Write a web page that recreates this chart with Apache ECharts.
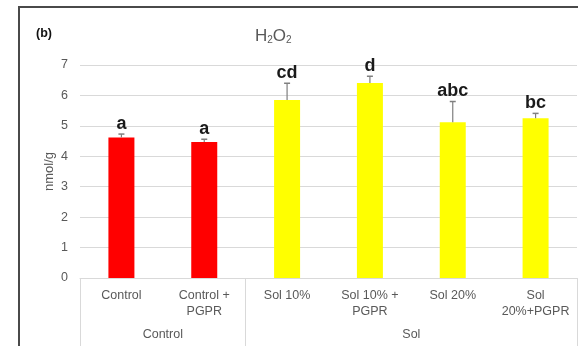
<!DOCTYPE html>
<html>
<head>
<meta charset="utf-8">
<script src="https://cdn.jsdelivr.net/npm/echarts@6/dist/echarts.min.js"></script>
<style>
html,body{margin:0;padding:0;background:#fff;}
#chart{width:578px;height:346px;}
</style>
</head>
<body>
<div id="chart"></div>
<script>
const categories = ['Control', 'Control +\nPGPR', 'Sol 10%', 'Sol 10% +\nPGPR', 'Sol 20%', 'Sol\n20%+PGPR'];
const groups = ['Control', 'Sol'];
const groupOf = [0, 0, 1, 1, 1, 1];
const means = [4.62, 4.47, 5.85, 6.41, 5.12, 5.25];
const errors = [0.11, 0.09, 0.55, 0.22, 0.68, 0.16];
const letters = ['a', 'a', 'cd', 'd', 'abc', 'bc'];
const yMin = 0, yMax = 7, yStep = 1;
const yName = 'nmol/g';
const panelTag = '(b)';

const groupColors = ['#ff0000', '#ffff00'];
const FONT = "'Liberation Sans', Arial, sans-serif";

// group boundaries and centres in category units
const boundaries = [0];
const centres = [];
groups.forEach((g, gi) => {
  const n = groupOf.filter(v => v === gi).length;
  const start = boundaries[boundaries.length - 1];
  centres.push(start + n / 2);
  boundaries.push(start + n);
});

const chart = echarts.init(document.getElementById('chart'));
chart.setOption({
  animation: false,
  backgroundColor: '#fff',
  graphic: [
    { type: 'rect', shape: { x: 19, y: 7, width: 700, height: 500 }, style: { fill: 'none', stroke: '#4a4a4a', lineWidth: 2 } },
    { type: 'text', left: 36, top: 27, style: { text: panelTag, font: 'bold 12.5px ' + FONT, fill: '#111' } },
    { type: 'text', left: 255, top: 28, style: {
        text: '{m|H}{s|2}{m|O}{s|2}',
        rich: {
          m: { fontFamily: FONT, fontSize: 17, fill: '#595959', color: '#595959' },
          s: { fontFamily: FONT, fontSize: 10, fill: '#595959', color: '#595959', padding: [8, 0, 0, 0] }
        }
      } }
  ],
  grid: { left: 80, right: 1, top: 65, bottom: 68, containLabel: false },
  xAxis: [
    {
      type: 'category',
      data: categories,
      axisLine: { lineStyle: { color: '#d9d9d9', width: 1 } },
      axisTick: { show: false },
      axisLabel: { color: '#595959', fontFamily: FONT, fontSize: 12.5, margin: 10, lineHeight: 16, interval: 0 }
    },
    {
      type: 'value',
      position: 'bottom',
      min: 0, max: categories.length,
      axisLine: { show: false },
      splitLine: { show: false },
      axisTick: { show: true, length: 70, customValues: boundaries, lineStyle: { color: '#d9d9d9', width: 1 } },
      axisLabel: {
        customValues: centres,
        margin: 50,
        color: '#595959', fontFamily: FONT, fontSize: 12.5,
        formatter: v => { const i = centres.indexOf(v); return i >= 0 ? groups[i] : ''; }
      }
    }
  ],
  yAxis: {
    type: 'value',
    min: yMin, max: yMax, interval: yStep,
    name: yName,
    nameLocation: 'middle',
    nameGap: 24,
    nameMoveOverlap: false,
    nameRotate: 90,
    nameTextStyle: { color: '#595959', fontFamily: FONT, fontSize: 13 },
    axisLine: { show: false },
    axisTick: { show: false },
    axisLabel: { color: '#595959', fontFamily: FONT, fontSize: 12.5, margin: 12 },
    splitLine: { lineStyle: { color: '#d9d9d9', width: 1 } }
  },
  series: [
    {
      type: 'bar',
      xAxisIndex: 0,
      barWidth: 26,
      data: means.map((v, i) => ({ value: v, itemStyle: { color: groupColors[groupOf[i]] } }))
    },
    {
      type: 'custom',
      xAxisIndex: 0,
      z: 5,
      data: means.map((m, i) => [i, m, m + errors[i]]),
      renderItem: (params, api) => {
        const i = api.value(0);
        const base = api.coord([i, api.value(1)]);
        const top = api.coord([i, api.value(2)]);
        const x = base[0];
        return {
          type: 'group',
          children: [
            { type: 'line', shape: { x1: x, y1: base[1], x2: x, y2: top[1] }, style: { stroke: '#7f7f7f', lineWidth: 1.2 } },
            { type: 'line', shape: { x1: x - 3, y1: top[1], x2: x + 3, y2: top[1] }, style: { stroke: '#7f7f7f', lineWidth: 1.5 } },
            { type: 'text', style: { text: letters[params.dataIndex], x: x, y: top[1] - 1, align: 'center', verticalAlign: 'bottom', font: 'bold 18px ' + FONT, fill: '#1a1a1a' } }
          ]
        };
      }
    }
  ]
});
</script>
</body>
</html>
